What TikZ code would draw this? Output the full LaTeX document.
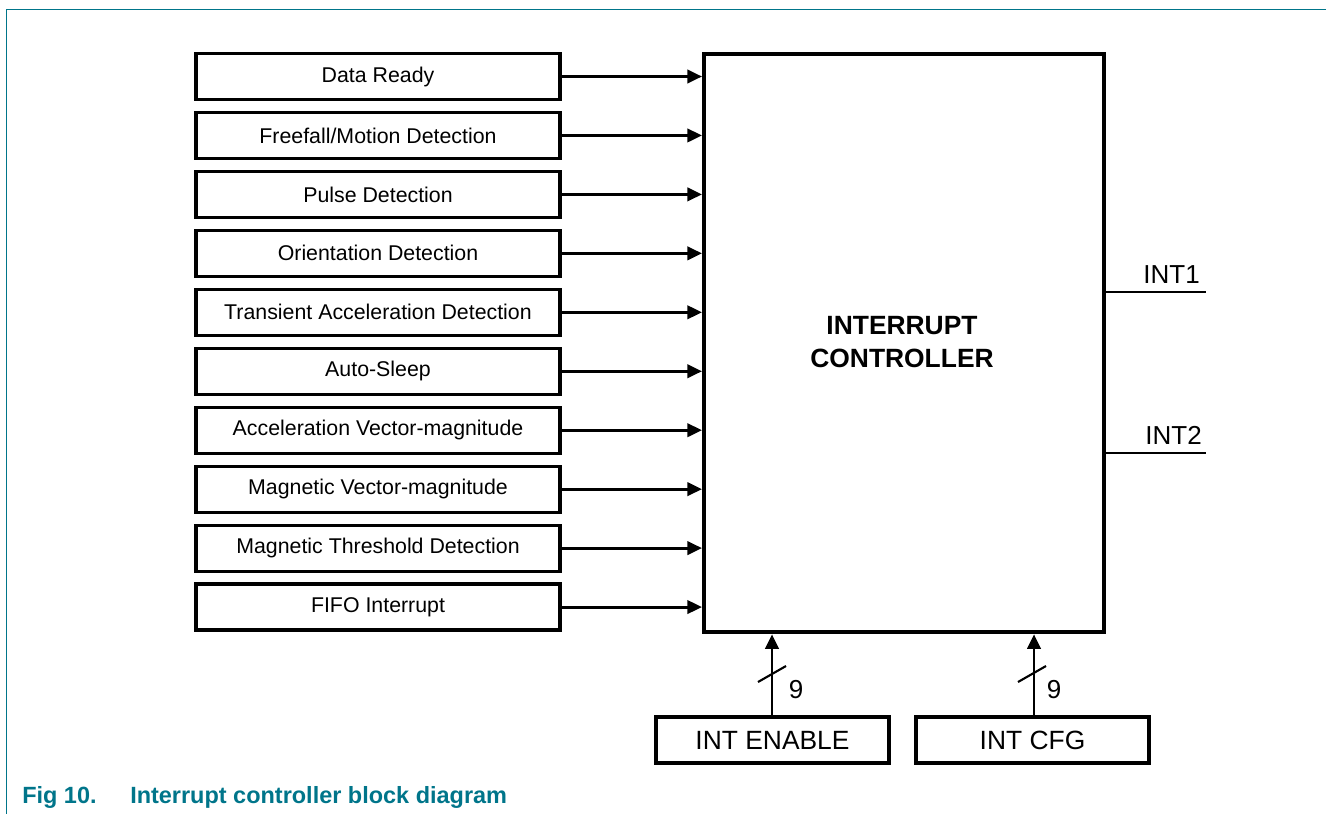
\documentclass[tikz,border=0pt]{standalone}
\usepackage{fontspec}
\setmainfont{Liberation Sans}
\usetikzlibrary{arrows.meta}
\definecolor{nxpteal}{HTML}{00758A}
\begin{document}
\begin{tikzpicture}[x=0.75pt,y=-0.75pt,
  srcbox/.style={draw,line width=2.4pt,minimum width=364*0.75pt,minimum height=46*0.75pt,inner sep=0pt,font=\fontsize{16}{19}\selectfont},
  regbox/.style={draw,line width=2.4pt,minimum width=233*0.75pt,minimum height=46*0.75pt,inner sep=0pt,font=\fontsize{19.8}{23}\selectfont},
  sig/.style={line width=2.2pt,-{Triangle[length=11pt,width=10pt]}},
  outline/.style={line width=1.6pt},
  buslbl/.style={font=\fontsize{19.5}{23}\selectfont,inner sep=0pt}
]
\useasboundingbox (0,0) rectangle (1327,814);
% page frame
\draw[nxpteal,line width=1.1pt] (1326,9.5) -- (6.5,9.5) -- (6.5,814);
% main box
\node[draw,line width=3.2pt,minimum width=400*0.75pt,minimum height=578*0.75pt,inner sep=0pt,anchor=north west] (ctrl) at (702,52) {};
\node[font=\bfseries\fontsize{19.8}{25}\selectfont,align=center] (ctrltxt) at (902,342) {INTERRUPT\\CONTROLLER};
% source boxes
\foreach \i/\t in {0/{Data Ready},1/{Freefall/Motion Detection},2/{Pulse Detection},3/{Orientation Detection},4/{Transient Acceleration Detection},5/{Auto-Sleep},6/{Acceleration Vector-magnitude},7/{Magnetic Vector-magnitude},8/{Magnetic Threshold Detection},9/{FIFO Interrupt}}{
  \node[srcbox] (s\i) at (378,76.5+58.95*\i) {\t};
  \draw[sig] (s\i.east) -- (s\i.east -| ctrl.west);
}
% register boxes
\node[regbox] (en) at (772.5,740) {INT ENABLE};
\node[regbox] (cfg) at (1032.5,740) {INT CFG};
\draw[sig] (772,717) coordinate (enTop) -- (enTop |- ctrl.south);
\draw[sig] (1034,717) coordinate (cfgTop) -- (cfgTop |- ctrl.south);
\draw[outline] (758,682) -- (786,666);
\draw[outline] (1018,682) -- (1046,666);
\node[buslbl] (n1) at (796,690) {9};
\node[buslbl] (n2) at (1054,690) {9};
% outputs
\coordinate (o1) at (1206,292);
\coordinate (o2) at (1206,453);
\draw[line width=2.2pt] (o1 -| ctrl.east) -- (o1);
\draw[line width=2.2pt] (o2 -| ctrl.east) -- (o2);
\node[font=\fontsize{19.5}{23}\selectfont,anchor=base east,inner sep=0pt] (l1) at (1200,283) {INT1};
\node[font=\fontsize{19.5}{23}\selectfont,anchor=base east,inner sep=0pt] (l2) at (1202,444) {INT2};
% caption
\node[font=\bfseries\fontsize{17.6}{20}\selectfont,text=nxpteal,anchor=base west,inner sep=0pt] (cap1) at (22,803) {Fig 10.};
\node[font=\bfseries\fontsize{17.6}{20}\selectfont,text=nxpteal,anchor=base west,inner sep=0pt] (cap2) at (130,803) {Interrupt controller block diagram};
\end{tikzpicture}
\end{document}
